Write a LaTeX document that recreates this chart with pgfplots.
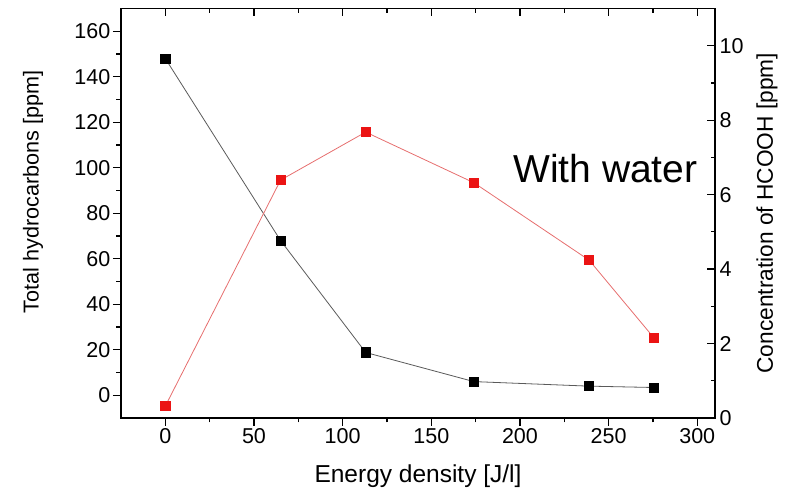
\documentclass[border=0pt]{standalone}
\usepackage{fontspec}
\setmainfont{Liberation Sans}
\usepackage{pgfplots}
\pgfplotsset{compat=1.18}
\definecolor{redm}{RGB}{235,20,20}
\definecolor{redl}{RGB}{230,110,110}
\definecolor{grayl}{RGB}{90,90,90}
\begin{document}
\begin{tikzpicture}
\pgfplotsset{
 common/.style={
  scale only axis, width=594pt, height=409.5pt,
  xmin=-25, xmax=310,
  xtick={0,50,...,300},
  minor x tick num=1,
  major tick length=8pt, minor tick length=4.5pt,
  every tick/.style={line width=1.2pt, black},
  axis line style={line width=1.3pt},
  tick label style={font=\fontsize{21.5}{24}\selectfont, inner sep=2.5pt},
  /pgf/number format/assume math mode=true,
 }
}
\begin{axis}[common,
  ymin=-10, ymax=170,
  ytick={0,20,...,160},
  minor y tick num=1,
  xtick pos=left, ytick pos=left,
  tick align=outside,
  xlabel={Energy density [J/l]},
  ylabel={Total hydrocarbons [ppm]},
  xlabel style={font=\fontsize{24.5}{28}\selectfont, at={(axis description cs:0.5,-0.1587)}, anchor=base},
  ylabel style={font=\fontsize{21.6}{25}\selectfont, at={(axis description cs:-0.148,0.552)}, anchor=center},
]
\addplot[color=grayl, line width=0.8pt, mark=square*, mark size=4.6pt, mark options={solid, fill=black, draw=black}] coordinates {
(0,148) (65,68) (113,18.8) (174,6.0) (239,4.0) (275.6,3.4)
};
\end{axis}
\begin{axis}[common,
  ymin=0, ymax=11,
  ytick={0,2,...,10},
  minor y tick num=1,
  xtick pos=right, ytick pos=right,
  yticklabel pos=right,
  tick align=inside,
  xticklabels={},
  yticklabel style={xshift=2pt},
  ylabel={Concentration of HCOOH [ppm]},
  ylabel style={font=\fontsize{22.7}{26}\selectfont, at={(axis description cs:1.0875,0.5)}, anchor=center},
]
\addplot[color=redl, line width=0.8pt, mark=square*, mark size=4.6pt, mark options={solid, fill=redm, draw=redm}] coordinates {
(0,0.32) (65,6.39) (113,7.68) (174,6.32) (239,4.24) (275.6,2.15)
};
\node[anchor=base west, font=\fontsize{39}{44}\selectfont, inner sep=0pt] at (axis description cs:0.66,0.576) {With water};
\end{axis}
\pgfresetboundingbox
\path[use as bounding box] (-121pt,-71pt) rectangle (664pt,418pt);
\end{tikzpicture}
\end{document}
